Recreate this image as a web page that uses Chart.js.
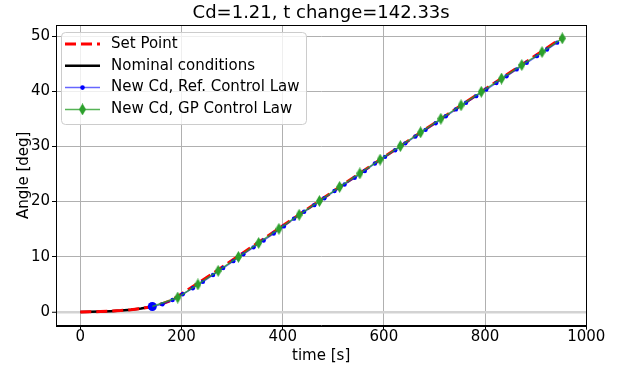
<!DOCTYPE html>
<html>
<head>
<meta charset="utf-8">
<script src="https://cdn.jsdelivr.net/npm/chart.js@4.4.0/dist/chart.umd.min.js"></script>
<style>
  html, body { margin: 0; padding: 0; background: #fff; }
</style>
</head>
<body>
<canvas id="myChart" width="619" height="366"></canvas>
<script>
// set point (reference trajectory)
const spTime  = [0, 20, 40, 60, 80, 100, 120, 142.33, 160, 180, 200, 240, 280, 320, 360, 400, 440, 480, 520, 560, 600, 640, 680, 720, 760, 800, 840, 880, 920, 955];
const spAngle = [0, 0.02, 0.06, 0.13, 0.24, 0.4, 0.62, 0.98, 1.42, 2.1, 3.25, 5.65, 8.1, 10.6, 13.1, 15.6, 18.1, 20.6, 23.1, 25.6, 28.05, 30.5, 33.0, 35.4, 37.9, 40.35, 42.8, 45.25, 47.7, 49.85];

// nominal run, up to the Cd change
const nomTime  = [0, 20, 40, 60, 80, 100, 120, 142.33];
const nomAngle = [0, 0.02, 0.06, 0.13, 0.24, 0.4, 0.62, 0.98];

// new Cd, reference control law
const refTime  = [142.33, 162.33, 182.33, 202.33, 222.33, 242.33, 262.33, 282.33, 302.33, 322.33, 342.33, 362.33, 382.33, 402.33, 422.33, 442.33, 462.33, 482.33, 502.33, 522.33, 542.33, 562.33, 582.33, 602.33, 622.33, 642.33, 662.33, 682.33, 702.33, 722.33, 742.33, 762.33, 782.33, 802.33, 822.33, 842.33, 862.33, 882.33, 902.33, 922.33, 942.33];
const refAngle = [0.98, 1.40, 2.15, 3.2, 4.3, 5.45, 6.7, 7.95, 9.2, 10.45, 11.7, 12.95, 14.2, 15.5, 16.9, 18.15, 19.35, 20.6, 21.9, 23.1, 24.3, 25.55, 26.9, 28.1, 29.3, 30.55, 31.8, 33.0, 34.2, 35.45, 36.7, 37.9, 39.1, 40.3, 41.5, 42.7, 43.95, 45.15, 46.35, 47.55, 48.8];

// new Cd, GP control law
const gpTime  = [142.33, 192.5, 232.5, 272.5, 312.5, 352.5, 392.5, 432.5, 472.5, 512.5, 552.5, 592.5, 632.5, 672.5, 712.5, 752.5, 792.5, 832.5, 872.5, 912.5, 952.5];
const gpAngle = [0.98, 2.61, 4.97, 7.44, 9.97, 12.5, 15.05, 17.6, 20.1, 22.65, 25.1, 27.6, 30.05, 32.55, 35.0, 37.45, 39.9, 42.3, 44.75, 47.1, 49.58];

const xTicks = [0, 200, 400, 600, 800, 1000];
const yTicks = [0, 10, 20, 30, 40, 50];

const FONT = '"DejaVu Sans", sans-serif';

function toPoints(t, a) {
  var pts = [];
  for (var i = 0; i < t.length; i++) {
    pts.push({x: t[i], y: a[i]});
  }
  return pts;
}

// thin diamond marker
function makeDiamond(w, h, color) {
  var cv = document.createElement('canvas');
  cv.width = w;
  cv.height = h;
  var g = cv.getContext('2d');
  g.fillStyle = color;
  g.beginPath();
  g.moveTo(w / 2, 0);
  g.lineTo(w, h / 2);
  g.lineTo(w / 2, h);
  g.lineTo(0, h / 2);
  g.closePath();
  g.fill();
  return cv;
}
const diamond = makeDiamond(7, 12, '#2ca02c');

// frame, title and legend box
const decoPlugin = {
  id: 'deco',
  afterDraw(chart) {
    var c = chart.ctx;
    var a = chart.chartArea;
    c.save();
    c.strokeStyle = '#000';
    c.lineWidth = 1;
    c.strokeRect(Math.round(a.left) + 0.5, Math.round(a.top) + 0.5, Math.round(a.right - a.left), Math.round(a.bottom - a.top));

    c.fillStyle = '#000';
    c.font = '18px ' + FONT;
    c.textAlign = 'center';
    c.textBaseline = 'alphabetic';
    c.fillText('Cd=1.21, t change=142.33s', (a.left + a.right) / 2, 18);

    // legend
    var bx = 61.5, by = 32.5, bw = 245, bh = 92, r = 4;
    c.beginPath();
    c.moveTo(bx + r, by);
    c.arcTo(bx + bw, by, bx + bw, by + bh, r);
    c.arcTo(bx + bw, by + bh, bx, by + bh, r);
    c.arcTo(bx, by + bh, bx, by, r);
    c.arcTo(bx, by, bx + bw, by, r);
    c.closePath();
    c.fillStyle = 'rgba(255,255,255,0.8)';
    c.fill();
    c.strokeStyle = '#cccccc';
    c.stroke();

    chart.data.datasets.forEach(function(ds, i) {
      var y = 44 + i * 21.8;
      c.beginPath();
      c.setLineDash(ds.borderDash || []);
      c.strokeStyle = ds.borderColor;
      c.lineWidth = ds.borderWidth;
      c.moveTo(65, y);
      c.lineTo(100, y);
      c.stroke();
      c.setLineDash([]);
      if (i === 2) {
        c.beginPath();
        c.fillStyle = '#0000ff';
        c.arc(82.5, y, 2.3, 0, Math.PI * 2);
        c.fill();
      } else if (i === 3) {
        c.drawImage(diamond, 82.5 - 3.5, y - 6);
      }
      c.fillStyle = '#000';
      c.font = '15px ' + FONT;
      c.textAlign = 'left';
      c.textBaseline = 'middle';
      c.fillText(ds.label, 111, y);
    });
    c.restore();
  }
};

function drawChart() {
  var ctx = document.getElementById('myChart').getContext('2d');
  var tickFont = {family: FONT, size: 15};

  // order: nominal at the bottom, then set point, GP run on top
  var chart = new Chart(ctx, {
    type: 'scatter',
    data: {
      datasets: [
        {
          label: 'Set Point',
          data: toPoints(spTime, spAngle),
          order: 4,
          showLine: true,
          borderColor: '#ff0000',
          borderWidth: 3,
          borderDash: [11, 5],
          pointRadius: 0
        },
        {
          label: 'Nominal conditions',
          data: toPoints(nomTime, nomAngle),
          order: 5,
          showLine: true,
          borderColor: '#000000',
          borderWidth: 2.5,
          pointRadius: 0
        },
        {
          label: 'New Cd, Ref. Control Law',
          data: toPoints(refTime, refAngle),
          order: 2,
          showLine: true,
          borderColor: 'rgba(0,0,255,0.6)',
          borderWidth: 1.5,
          pointRadius: function(c) { return c.dataIndex === 0 ? 4.5 : 2.2; },
          pointBackgroundColor: '#0000ff',
          pointBorderWidth: 0
        },
        {
          label: 'New Cd, GP Control Law',
          data: toPoints(gpTime, gpAngle),
          order: 1,
          showLine: true,
          borderColor: 'rgba(44,160,44,0.8)',
          borderWidth: 1.5,
          pointStyle: function(c) { return c.dataIndex === 0 ? 'circle' : diamond; },
          pointRadius: function(c) { return c.dataIndex === 0 ? 0 : 5; }
        }
      ]
    },
    options: {
      responsive: false,
      animation: false,
      devicePixelRatio: 1,
      layout: {padding: {left: 0, right: 32.7, top: 25, bottom: 0}},
      plugins: {legend: {display: false}, tooltip: {enabled: false}},
      scales: {
        x: {
          type: 'linear',
          min: -48,
          max: 1000,
          afterBuildTicks: function(s) { s.ticks = xTicks.map(function(v) { return {value: v}; }); },
          afterFit: function(s) { s.height = 40.3; },
          grid: {color: '#b0b0b0', lineWidth: 1, tickColor: '#000', tickLength: 4, tickWidth: 1},
          border: {display: true, color: '#000', width: 1},
          ticks: {color: '#000', font: tickFont, padding: -2, maxRotation: 0, autoSkip: false,
            callback: function(v) { return String(v); }},
          title: {display: true, text: 'time [s]', color: '#000', font: tickFont, padding: {top: 0, bottom: 1}}
        },
        y: {
          type: 'linear',
          min: -2.5,
          max: 52,
          afterBuildTicks: function(s) { s.ticks = yTicks.map(function(v) { return {value: v}; }); },
          afterFit: function(s) { s.width = 56; },
          grid: {
            color: function(c) { return c.tick && c.tick.value === 0 ? '#d3d3d3' : '#b0b0b0'; },
            lineWidth: function(c) { return c.tick && c.tick.value === 0 ? 2.5 : 1; },
            tickColor: '#000', tickLength: 4, tickWidth: 1
          },
          border: {display: true, color: '#000', width: 1},
          ticks: {color: '#000', font: tickFont, padding: 2, autoSkip: false,
            callback: function(v) { return String(v); }},
          title: {display: true, text: 'Angle [deg]', color: '#000', font: tickFont, padding: {top: 15, bottom: 0}}
        }
      }
    },
    plugins: [decoPlugin]
  });
  return chart;
}

drawChart();
</script>
</body>
</html>
